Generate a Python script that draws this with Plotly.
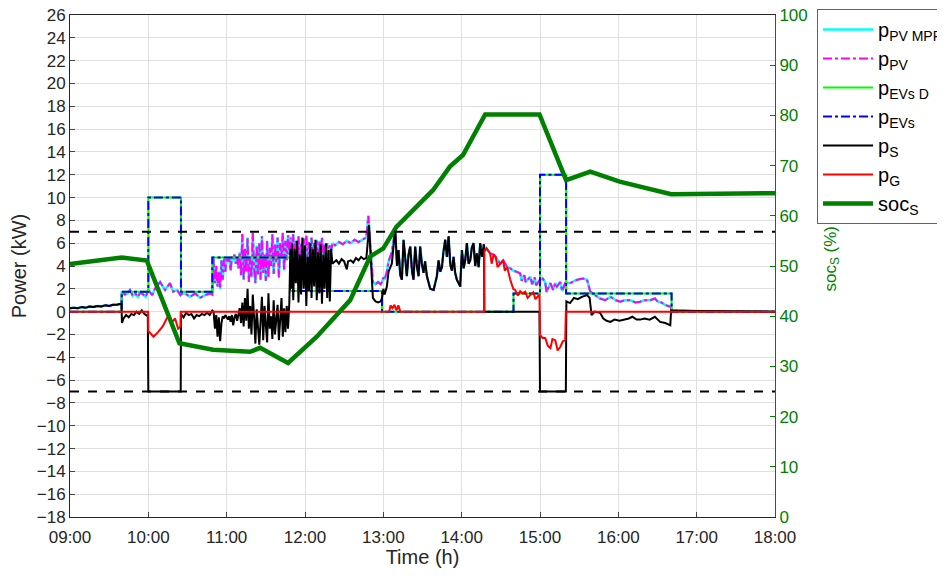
import plotly.graph_objects as go

# time axis in minutes after 09:00
TICK_MIN = [0, 60, 120, 180, 240, 300, 360, 420, 480, 540]
TICK_TXT = ["09:00", "10:00", "11:00", "12:00", "13:00", "14:00", "15:00", "16:00", "17:00", "18:00"]

# EV demand (step profile)
ev_t = [0, 39.6, 60, 85, 109, 168.6, 239, 339.7, 360, 380, 460.8, 540]
ev_p = [0, 1.75, 10, 1.75, 4.75, 1.8, 0, 1.6, 12, 1.6, 0, 0]

# storage power p_S
s_t = [0, 3, 6, 9, 12, 15, 18, 21, 24, 27, 30, 33, 36, 39.4,
       39.8, 41, 43, 45, 47, 49, 51, 53, 55, 57, 59.6,
       60, 84.8, 85, 87, 89, 91, 93, 95, 97, 99, 101, 103, 105, 107, 109,
       110, 111, 112, 113, 114, 115, 116, 117, 118, 119, 120, 121, 122, 123, 124,
       125, 126, 127, 128, 129, 130, 131, 132, 133, 134, 135, 136, 137, 138, 139,
       140, 141, 142, 143, 144, 145, 146, 147, 148, 149, 150, 151, 152, 153, 154,
       155, 156, 157, 158, 159, 160, 161, 162, 163, 164, 165, 166, 167, 168,
       168.8, 169.5, 170, 171, 172, 173, 174, 175, 176, 177, 178, 179, 180, 181, 182,
       183, 184, 185, 186, 187, 188, 189, 190, 191, 192, 193, 194, 195, 196, 197,
       198, 199, 200, 201, 202, 204, 206, 208, 210, 212, 213, 215, 217, 219, 221,
       223, 225, 227, 228, 229, 230, 231, 232, 234, 236, 238,
       239, 240, 241, 242.7, 244, 246.5, 249.1, 250.5, 251.6, 253, 254.2, 255.5, 256.8,
       258, 259.3, 260.6, 262, 263.1, 264.4, 265.7, 267, 268.2, 269.5, 270.8, 272,
       273.4, 275.9, 278.5, 281, 282.3, 283.6, 284.9, 286, 287.4, 288.7, 290, 291.3,
       292.5, 293.8, 295, 296.3, 298.9, 300.2, 301.5, 302.7, 304, 305.3, 306.6, 307.8,
       309.1, 310.4, 311.7, 313, 314.2, 315.5, 317, 317.4,
       359.6, 360, 379.8, 380.2, 383, 386, 389, 392, 396, 398, 399.5, 402, 406,
       408.5, 411, 414, 417, 421, 425, 428, 430.7, 434, 436.8, 440, 444, 448,
       452, 456, 459.8, 460.4, 480, 510, 540]
s_p = [0.3, 0.35, 0.3, 0.4, 0.35, 0.45, 0.4, 0.5, 0.45, 0.55, 0.5, 0.6, 0.6, 0.7,
       -1.0, -0.6, -0.3, -0.5, -0.2, -0.3, 0.0, -0.2, 0.1, -0.2, -0.4,
       -7, -7, -0.2, -0.5, -0.1, -0.3, -0.2, -0.6, -0.3, -0.4, -0.2, -0.3, -0.1, -0.3, 0.1,
       0.0, -1.5, -0.3, -2.2, -0.5, -2.6, -1.0, -0.4, -0.6, -0.3, -0.5, -0.7, -0.4, -0.9, -0.3,
       -1.2, -0.5, -0.2, -0.8, -0.3, 0.3, -1.0, 0.8, -1.3, 1.2, -0.8, 2.0, -1.5, 0.5, -2.0,
       1.5, -0.5, -2.8, 0.2, -1.8, -2.9, -0.8, 1.3, -2.5, 0.5, -1.2, -2.7, 1.6, -1.5, -0.4,
       -2.4, 1.0, -2.0, -0.7, 0.6, -2.5, -1.0, 1.2, -2.2, 0.3, -1.8, 0.5, -1.5, 0.8,
       5.5, 2.0, 6.0, 1.0, 5.5, 2.5, 6.2, 0.8, 5.0, 1.5, 6.5, 2.0, 5.8, 0.5, 4.8,
       1.8, 6.0, 1.2, 5.5, 2.2, 6.3, 1.0, 5.2, 1.6, 5.9, 0.7, 5.0, 2.0, 6.0, 1.2,
       5.4, 0.9, 5.5, 4.2, 4.3, 4.5, 4.2, 4.6, 4.4, 3.7, 4.4, 4.5, 4.3, 4.7, 4.5,
       4.8, 4.6, 4.7, 6.0, 7.6, 5.5, 2.5, 1.2, 0.9, 0.8, 0.9,
       1.2, 2.0, 1.5, 2.2, 3.5, 4.2, 7.2, 4.0, 5.4, 3.2, 2.8, 6.3, 4.5,
       3.1, 5.0, 5.7, 3.5, 2.8, 5.7, 4.0, 3.1, 5.7, 4.2, 3.4, 4.4,
       3.1, 2.0, 1.9, 3.1, 4.5, 3.5, 3.9, 5.2, 6.3, 4.8, 6.6, 4.1,
       3.6, 4.8, 3.4, 2.8, 2.2, 5.4, 3.8, 4.5, 6.0, 4.2, 4.5, 5.6,
       6.0, 4.0, 5.1, 3.9, 6.0, 4.8, 5.9, 0.0,
       0.0, -7, -7, 0.9, 0.75, 1.2, 1.1, 1.3, 1.45, 1.2, -0.3, 0.0, -0.1,
       -0.6, -0.8, -0.9, -0.7, -0.8, -0.7, -0.6, -0.45, -0.7, -0.7, -0.6, -0.7, -0.45,
       -0.9, -1.0, -1.2, 0.1, 0.05, 0.05, 0.0]

# grid power p_G
g_t = [0, 59.8, 60, 62, 64, 67.4, 71, 75, 77.4, 80.5, 82.8, 84.6, 84.8,
       244.5, 245.5, 247, 248.5, 250, 251.5, 253, 317.2,
       317.4, 319, 321.8, 323, 324.5, 326, 327.5, 329.5, 331.8, 333, 334.9, 337.2,
       339.5, 341, 343, 344.8, 346.5, 348.7, 350.5, 352.5, 354.8, 356.5, 358, 359.6,
       360, 362, 364, 366, 368, 369.5, 371.7, 373.5, 375.5, 377.5, 379.3, 379.8, 540]
g_p = [0, 0, -1.7, -2.0, -2.2, -1.8, -1.3, -0.4, -1.0, -0.6, -1.5, -1.3, 0,
       0, 0.55, 0.3, 0.6, 0.1, 0.55, 0, 0,
       5.3, 5.55, 5.1, 4.2, 5.0, 4.8, 3.9, 4.2, 4.5, 3.6, 3.9, 2.8,
       2.0, 1.9, 1.4, 1.8, 1.6, 1.75, 1.2, 1.45, 1.7, 1.1, 1.3, 1.5,
       -2.05, -2.3, -2.3, -3.0, -3.2, -2.4, -2.5, -3.4, -3.1, -2.6, -2.5, 0, 0]

# PV power p_PV (and MPPT reference)
pv_t = [0, 3, 6, 9, 12, 15, 18, 21, 24, 27, 30, 33, 36, 39.4,
        39.8, 42, 44, 46, 48, 50, 52, 54, 56, 58, 60, 63, 65, 69, 72.8, 76.6, 79, 82, 84.6,
        86, 88, 92, 96, 99.6, 103.4, 107.3, 109,
        110, 111, 112, 113, 114, 115, 116, 117, 118, 119, 120, 121, 122, 123, 124,
        125, 126, 127, 128, 129, 130, 131, 132, 133, 134, 135, 136, 137, 138, 139,
        140, 141, 142, 143, 144, 145, 146, 147, 148, 149, 150, 151, 152, 153, 154,
        155, 156, 157, 158, 159, 160, 161, 162, 163, 164, 165, 166, 167, 168,
        169, 170, 171, 172, 173, 174, 175, 176, 177, 178, 179, 180, 181, 182,
        183, 184, 185, 186, 187, 188, 189, 190, 191, 192, 193, 194, 195, 196, 197,
        198, 199, 200, 201, 203, 206, 209, 212, 215, 218, 221, 224, 227, 228.5,
        230, 231, 232, 234, 236, 238, 239,
        240, 241, 242.7, 244, 246.5, 249.1, 250.5, 251.6, 253, 254.2, 255.5, 256.8,
        258, 259.3, 260.6, 262, 263.1, 264.4, 265.7, 267, 268.2, 269.5, 270.8, 272,
        273.4, 275.9, 278.5, 281, 282.3, 283.6, 284.9, 286, 287.4, 288.7, 290, 291.3,
        292.5, 293.8, 295, 296.3, 298.9, 300.2, 301.5, 302.7, 304, 305.3, 306.6, 307.8,
        309.1, 310.4, 311.7, 313, 314.2, 315.5, 317,
        317.4, 319, 321.8, 324.5, 326, 329.5, 331.8, 334.9, 337.2, 339.5,
        342, 344.8, 346, 348, 349, 352.5, 354, 356, 357, 360,
        362, 364, 365, 368, 370, 371.7, 373, 375.5, 377, 379.3, 383, 388.5, 393, 396,
        398.5, 402, 406, 410, 414, 418, 421.5, 425, 429, 433, 436.8, 440, 444.4, 448,
        450, 453, 456, 460, 461, 480, 510, 540]
pv_p = [0.3, 0.35, 0.3, 0.4, 0.35, 0.45, 0.4, 0.5, 0.45, 0.55, 0.5, 0.6, 0.6, 0.7,
        1.7, 1.5, 1.6, 1.9, 1.4, 1.6, 1.3, 1.7, 1.5, 1.3, 1.9, 1.45, 2.0, 2.6, 1.9, 2.5, 1.75, 1.9, 1.45,
        1.6, 1.6, 1.3, 1.6, 1.2, 1.45, 1.6, 1.5,
        4.6, 2.5, 4.0, 2.2, 3.5, 2.0, 4.5, 2.8, 4.6, 3.5, 4.7, 4.4, 4.7, 3.6, 4.8,
        4.5, 5.0, 4.2, 4.7, 3.8, 5.2, 3.2, 6.8, 2.8, 5.5, 3.5, 6.5, 2.6, 4.8, 3.0,
        6.9, 3.8, 2.5, 5.8, 3.2, 6.0, 2.8, 6.6, 3.4, 5.0, 2.7, 6.2, 3.0, 5.6, 4.0,
        6.8, 3.3, 5.9, 4.3, 6.5, 3.0, 6.0, 4.8, 6.9, 3.6, 6.2, 4.5, 6.7, 5.0,
        6.5, 4.5, 6.8, 5.0, 6.2, 4.3, 6.6, 4.8, 6.0, 4.4, 6.4, 5.2, 6.7, 4.5,
        6.1, 4.9, 6.5, 4.6, 6.0, 5.1, 6.3, 4.4, 6.2, 5.0, 6.5, 4.7, 5.9, 5.2, 6.0,
        4.9, 5.8, 5.3, 6.0, 5.8, 6.1, 5.9, 6.2, 6.0, 6.3, 6.1, 6.3, 6.5, 8.4,
        6.0, 3.5, 2.6, 2.4, 2.6, 2.4, 2.6,
        3.0, 2.8, 3.5, 4.4, 5.2, 7.2, 4.0, 5.4, 3.2, 2.8, 6.3, 4.5,
        3.1, 5.0, 5.7, 3.5, 2.8, 5.7, 4.0, 3.1, 5.7, 4.2, 3.4, 4.4,
        3.1, 2.0, 1.9, 3.1, 4.5, 3.5, 3.9, 5.2, 6.3, 4.8, 6.6, 4.1,
        3.6, 4.8, 3.4, 2.8, 2.2, 5.4, 3.8, 4.5, 6.0, 4.2, 4.5, 5.6,
        6.0, 4.0, 5.1, 3.9, 6.0, 4.8, 5.9,
        5.3, 5.55, 5.1, 5.0, 4.8, 4.2, 4.5, 3.9, 3.8, 3.6,
        3.5, 3.35, 2.7, 3.2, 2.6, 3.05, 2.4, 3.0, 2.3, 2.8,
        2.9, 2.6, 1.7, 2.5, 1.9, 2.5, 2.2, 2.6, 1.8, 2.5, 2.5, 2.8, 2.9, 2.8,
        1.75, 1.45, 1.15, 1.0, 1.3, 1.0, 0.87, 1.0, 1.0, 0.8, 0.87, 1.0, 1.0, 1.15,
        0.9, 0.8, 0.58, 0.43, 0.1, 0.05, 0.05, 0.0]

# state of charge (%)
soc_t = [0, 39.6, 58.8, 83.8, 109.6, 137.9, 145.6, 167, 189, 214.6, 229.9,
         240, 250, 263, 278, 291, 301, 318, 359.6, 380, 398.5, 421, 460.5, 540]
soc_v = [50.4, 51.7, 51.1, 34.6, 33.3, 32.9, 33.7, 30.7, 35.9, 43.2, 51.9,
         53.5, 57.8, 61.2, 65.1, 69.8, 72.1, 80.2, 80.2, 67.1, 68.8, 66.8, 64.3, 64.5]

P_LIMIT = 7

FONT = "Liberation Sans, Arial, sans-serif"
GREEN = "rgb(0,128,0)"

fig = go.Figure()
fig.add_trace(go.Scatter(x=pv_t, y=pv_p, name="p<sub>PV MPPT</sub>", mode="lines",
                         line=dict(color="cyan", width=2.5)))
fig.add_trace(go.Scatter(x=pv_t, y=pv_p, name="p<sub>PV</sub>", mode="lines",
                         line=dict(color="magenta", width=2, dash="dashdot")))
fig.add_trace(go.Scatter(x=ev_t, y=ev_p, name="p<sub>EVs D</sub>", mode="lines",
                         line=dict(color="lime", width=2, shape="hv")))
fig.add_trace(go.Scatter(x=ev_t, y=ev_p, name="p<sub>EVs</sub>", mode="lines",
                         line=dict(color="blue", width=2, dash="dashdot", shape="hv")))
fig.add_trace(go.Scatter(x=s_t, y=s_p, name="p<sub>S</sub>", mode="lines",
                         line=dict(color="black", width=2)))
fig.add_trace(go.Scatter(x=g_t, y=g_p, name="p<sub>G</sub>", mode="lines",
                         line=dict(color="red", width=2)))
fig.add_trace(go.Scatter(x=soc_t, y=soc_v, name="soc<sub>S</sub>", mode="lines", yaxis="y2",
                         line=dict(color=GREEN, width=4.5)))

for lim in (P_LIMIT, -P_LIMIT):
    fig.add_hline(y=lim, line=dict(color="black", width=2, dash="dash"))

fig.add_annotation(text="soc<sub>S</sub> (%)", textangle=-90, xref="paper", yref="paper",
                   x=1.081, y=0.515, xanchor="center", yanchor="middle", showarrow=False,
                   font=dict(size=17, color=GREEN))

# the page body adds an 8 px margin, so the figure is sized to fit inside the window
fig.update_layout(
    width=929, height=560,
    margin=dict(l=62, r=162, t=7, b=51, autoexpand=False),
    plot_bgcolor="white", paper_bgcolor="white",
    font=dict(family=FONT, size=17, color="rgb(38,38,38)"),
    showlegend=True,
    legend=dict(x=1.0596, y=1.012, xanchor="left", yanchor="top",
                bordercolor="rgb(100,100,100)", borderwidth=1, bgcolor="white",
                font=dict(size=20, color="black"), itemwidth=50, tracegroupgap=0),
    xaxis=dict(range=[0, 540], tickvals=TICK_MIN, ticktext=TICK_TXT, automargin=False,
               title=dict(text="Time (h)", standoff=17), ticklabelstandoff=5,
               ticklabeloverflow="allow",
               showgrid=True, gridcolor="rgb(223,223,223)", zeroline=False,
               showline=True, linecolor="rgb(38,38,38)", mirror=True, ticks="inside", ticklen=5),
    yaxis=dict(range=[-18, 26], dtick=2, automargin=False, ticklabeloverflow="allow",
               title=dict(text="Power (kW)", standoff=8),
               showgrid=True, gridcolor="rgb(223,223,223)", zeroline=False,
               showline=True, linecolor="rgb(38,38,38)", ticks="inside", ticklen=5),
    yaxis2=dict(range=[0, 100], dtick=10, overlaying="y", side="right", automargin=False,
                ticklabeloverflow="allow",
                tickfont=dict(color=GREEN), showgrid=False, zeroline=False,
                showline=True, linecolor=GREEN, ticks="inside", ticklen=5, tickcolor=GREEN),
)

fig.write_html("out.html")
